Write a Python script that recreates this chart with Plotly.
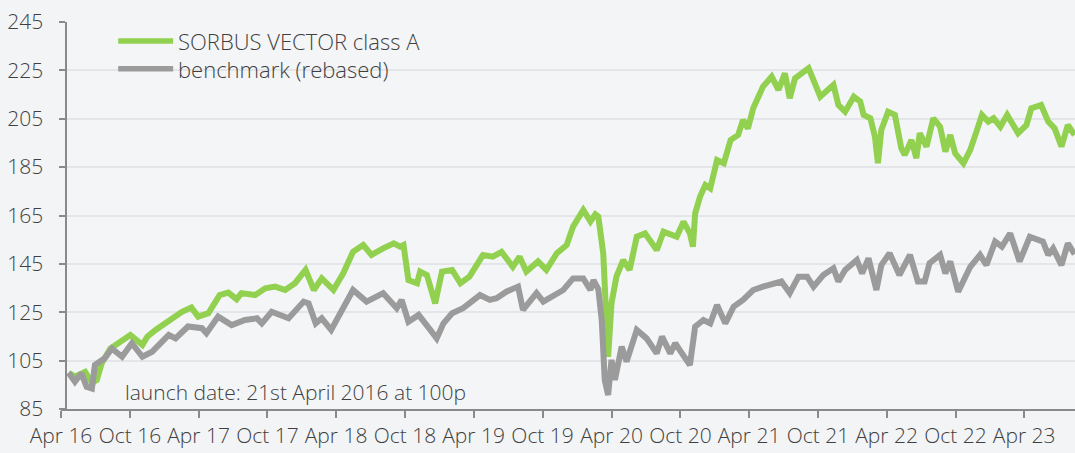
import plotly.graph_objects as go

# ---- data ----
fund_dates = [
    "2016-04-21", "2016-05-08", "2016-06-04", "2016-06-22", "2016-07-05", "2016-07-18", "2016-08-10",
    "2016-09-01", "2016-10-02", "2016-11-03", "2016-11-16", "2016-12-08", "2017-01-12", "2017-02-16",
    "2017-03-13", "2017-03-31", "2017-04-27", "2017-05-27", "2017-06-19", "2017-07-11", "2017-07-24",
    "2017-08-29", "2017-09-25", "2017-10-21", "2017-11-17", "2017-12-13", "2018-01-10", "2018-02-01",
    "2018-02-22", "2018-03-25", "2018-04-20", "2018-05-16", "2018-06-12", "2018-07-04", "2018-08-04",
    "2018-09-01", "2018-09-18", "2018-09-27", "2018-10-10", "2018-11-02", "2018-11-10", "2018-11-28",
    "2018-12-20", "2019-01-07", "2019-02-03", "2019-02-25", "2019-03-21", "2019-04-26", "2019-05-22",
    "2019-06-14", "2019-07-14", "2019-08-01", "2019-08-19", "2019-09-19", "2019-10-11", "2019-11-08",
    "2019-12-04", "2019-12-21", "2020-01-17", "2020-02-05", "2020-02-18", "2020-02-26", "2020-03-10",
    "2020-03-23", "2020-04-01", "2020-04-14", "2020-05-02", "2020-05-19", "2020-06-07", "2020-06-29",
    "2020-07-30", "2020-08-17", "2020-09-21", "2020-10-09", "2020-10-26", "2020-11-03", "2020-11-09",
    "2020-11-22", "2020-12-06", "2020-12-19", "2021-01-06", "2021-01-24", "2021-02-11", "2021-03-03",
    "2021-03-16", "2021-03-29", "2021-04-12", "2021-05-08", "2021-05-31", "2021-06-18", "2021-07-05",
    "2021-07-18", "2021-08-01", "2021-08-19", "2021-09-06", "2021-10-07", "2021-11-03", "2021-11-11",
    "2021-11-24", "2021-12-12", "2022-01-04", "2022-01-21", "2022-01-30", "2022-02-17", "2022-03-01",
    "2022-03-09", "2022-03-18", "2022-04-05", "2022-04-23", "2022-05-10", "2022-05-19", "2022-06-06",
    "2022-06-19", "2022-06-28", "2022-07-16", "2022-08-03", "2022-08-21", "2022-09-04", "2022-09-17",
    "2022-09-30", "2022-10-22", "2022-11-09", "2022-11-27", "2022-12-10", "2022-12-27", "2023-01-10",
    "2023-01-28", "2023-02-15", "2023-03-16", "2023-04-07", "2023-04-20", "2023-05-16", "2023-06-04",
    "2023-06-21", "2023-07-09", "2023-07-26", "2023-08-13",
]
fund_values = [
    100.0, 98.4, 100.4, 95.8, 97.0, 103.9, 110.0,
    112.2, 115.6, 111.5, 114.9, 117.7, 121.8, 125.2,
    127.0, 123.2, 124.6, 132.1, 133.1, 130.4, 132.9,
    132.1, 134.9, 135.6, 134.2, 137.0, 142.5, 134.2,
    139.0, 134.2, 141.1, 150.0, 152.8, 148.7, 151.4,
    153.5, 152.1, 152.8, 138.3, 137.0, 141.8, 140.4,
    128.7, 141.8, 142.5, 137.0, 139.7, 148.7, 148.0,
    150.0, 143.8, 148.0, 141.8, 146.0, 142.5, 149.4,
    152.8, 160.4, 167.3, 162.5, 165.5, 164.5, 149.4,
    106.6, 128.7, 139.7, 146.6, 142.5, 156.2, 157.6,
    150.7, 158.3, 156.2, 162.4, 157.6, 152.1, 165.9,
    172.8, 177.6, 176.2, 187.9, 186.6, 196.2, 198.3,
    204.5, 201.0, 209.3, 218.3, 222.4, 216.9, 223.8,
    213.5, 221.7, 223.8, 225.9, 214.1, 217.6, 219.0,
    210.7, 207.9, 214.1, 212.1, 206.6, 205.2, 197.6,
    186.6, 200.4, 207.9, 206.6, 192.8, 190.0, 196.2,
    188.7, 199.0, 193.5, 205.2, 201.7, 191.4, 198.3,
    190.7, 186.6, 192.1, 200.4, 206.6, 203.8, 205.2,
    201.7, 206.6, 199.0, 202.4, 209.3, 210.7, 203.8,
    201.0, 193.5, 202.4, 198.3,
]

bench_dates = [
    "2016-04-21", "2016-05-08", "2016-05-25", "2016-06-08", "2016-06-22", "2016-06-30", "2016-07-26",
    "2016-08-14", "2016-09-10", "2016-10-06", "2016-11-03", "2016-11-29", "2017-01-12", "2017-01-30",
    "2017-03-04", "2017-04-10", "2017-04-22", "2017-05-23", "2017-06-28", "2017-08-02", "2017-09-03",
    "2017-09-16", "2017-10-12", "2017-11-26", "2018-01-05", "2018-01-18", "2018-02-06", "2018-02-22",
    "2018-03-19", "2018-04-11", "2018-05-16", "2018-06-21", "2018-08-04", "2018-09-09", "2018-09-22",
    "2018-10-10", "2018-11-06", "2018-12-07", "2018-12-24", "2019-01-11", "2019-02-03", "2019-03-04",
    "2019-04-18", "2019-05-14", "2019-06-01", "2019-06-27", "2019-07-28", "2019-08-10", "2019-09-15",
    "2019-10-03", "2019-10-29", "2019-11-25", "2019-12-21", "2020-01-17", "2020-02-05", "2020-02-13",
    "2020-02-26", "2020-03-06", "2020-03-14", "2020-03-23", "2020-04-01", "2020-04-10", "2020-04-28",
    "2020-05-11", "2020-06-07", "2020-07-03", "2020-07-30", "2020-08-13", "2020-09-04", "2020-09-17",
    "2020-10-05", "2020-10-26", "2020-11-09", "2020-12-01", "2020-12-19", "2021-01-06", "2021-01-28",
    "2021-02-19", "2021-03-16", "2021-04-12", "2021-05-08", "2021-06-04", "2021-06-26", "2021-07-18",
    "2021-08-10", "2021-09-02", "2021-09-19", "2021-10-15", "2021-11-11", "2021-11-24", "2021-12-12",
    "2022-01-12", "2022-01-26", "2022-02-12", "2022-03-05", "2022-03-18", "2022-04-09", "2022-05-05",
    "2022-06-02", "2022-06-23", "2022-07-11", "2022-07-24", "2022-08-21", "2022-09-04", "2022-09-17",
    "2022-10-08", "2022-11-09", "2022-12-05", "2022-12-22", "2023-01-14", "2023-02-01", "2023-02-23",
    "2023-03-20", "2023-04-16", "2023-05-21", "2023-06-04", "2023-06-17", "2023-07-09", "2023-07-26",
    "2023-08-13",
]
bench_values = [
    100.0, 96.3, 99.8, 94.2, 93.5, 103.2, 106.0,
    110.0, 106.6, 112.2, 106.6, 108.7, 115.6, 114.2,
    119.1, 118.4, 116.3, 123.2, 119.7, 121.8, 122.5,
    120.4, 125.2, 122.5, 129.4, 128.7, 120.4, 122.5,
    117.7, 124.6, 134.2, 129.4, 132.9, 126.7, 130.1,
    121.1, 123.9, 117.7, 114.2, 120.4, 124.6, 126.7,
    132.1, 130.1, 130.8, 133.5, 135.6, 126.0, 132.9,
    129.4, 132.1, 134.2, 139.0, 139.0, 134.2, 138.3,
    134.5, 121.8, 97.0, 90.8, 105.3, 97.0, 110.8,
    104.6, 117.7, 114.2, 108.0, 114.9, 108.0, 112.2,
    108.0, 103.2, 119.1, 121.8, 120.4, 128.0, 120.4,
    127.3, 130.1, 134.2, 135.6, 137.0, 137.7, 132.9,
    139.7, 139.7, 135.6, 140.4, 143.2, 137.7, 142.5,
    146.6, 141.1, 147.3, 134.2, 144.5, 149.4, 140.4,
    148.7, 137.7, 137.7, 145.3, 148.7, 141.1, 146.0,
    133.5, 143.8, 148.7, 144.5, 154.2, 152.1, 157.6,
    146.0, 156.2, 154.2, 148.7, 151.4, 144.5, 153.5,
    149.0,
]

series_names = ["SORBUS VECTOR class A", "benchmark (rebased)"]
tick_dates = ["2016-04-01", "2016-10-01", "2017-04-01", "2017-10-01", "2018-04-01", "2018-10-01",
              "2019-04-01", "2019-10-01", "2020-04-01", "2020-10-01", "2021-04-01", "2021-10-01",
              "2022-04-01", "2022-10-01", "2023-04-01"]
tick_labels = ["Apr 16", "Oct 16", "Apr 17", "Oct 17", "Apr 18", "Oct 18", "Apr 19", "Oct 19",
               "Apr 20", "Oct 20", "Apr 21", "Oct 21", "Apr 22", "Oct 22", "Apr 23"]
y_ticks = [85, 105, 125, 145, 165, 185, 205, 225, 245]
note_text = "launch date: 21st April 2016 at 100p"

GREEN = "#92d050"
GREY = "#9b9b9b"
TEXT = "#3f3f3f"
AXIS = "#8a8a8a"
FONT = "Open Sans"
W = 300

fig = go.Figure()
fig.add_trace(go.Scatter(x=fund_dates, y=fund_values, mode="lines", name=series_names[0],
                         line=dict(color=GREEN, width=6), showlegend=False))
fig.add_trace(go.Scatter(x=bench_dates, y=bench_values, mode="lines", name=series_names[1],
                         line=dict(color=GREY, width=6), showlegend=False))

# legend drawn manually
legend_y = [0.951, 0.879]
for name, col, yy in zip(series_names, [GREEN, GREY], legend_y):
    fig.add_shape(type="line", xref="paper", yref="paper", x0=0.0564, x1=0.1106, y0=yy, y1=yy,
                  line=dict(color=col, width=5.5))
    fig.add_annotation(xref="paper", yref="paper", x=0.1136, y=yy, text=name, showarrow=False,
                       xanchor="left", yanchor="middle",
                       font=dict(family=FONT, size=22, color=TEXT, weight=W))

fig.add_annotation(xref="paper", yref="paper", x=0.0613, y=0.044, text=note_text, showarrow=False,
                   xanchor="left", yanchor="middle",
                   font=dict(family=FONT, size=21, color=TEXT, weight=W))

fig.update_layout(
    width=1075, height=453,
    margin=dict(l=61, r=0, t=22, b=44),
    paper_bgcolor="#f3f4f6", plot_bgcolor="#f4f5f7",
    font=dict(family=FONT, color=TEXT),
    xaxis=dict(range=["2016-04-01", "2023-08-14"], tickmode="array", tickvals=tick_dates,
               ticktext=tick_labels, showgrid=False, zeroline=False, showline=True,
               linecolor=AXIS, linewidth=2, ticks="outside", ticklen=7, tickwidth=2,
               tickcolor=AXIS, tickfont=dict(family=FONT, size=21, color=TEXT, weight=W),
               ticklabelstandoff=0),
    yaxis=dict(range=[85, 245], tickmode="array", tickvals=y_ticks, anchor="free",
               position=0.0054, showgrid=True, gridcolor="#e4e5e8", gridwidth=1.5,
               zeroline=False, showline=True, linecolor=AXIS, linewidth=2, ticks="outside",
               ticklen=6, tickwidth=2, tickcolor=AXIS,
               tickfont=dict(family=FONT, size=21, color=TEXT, weight=W), ticklabelstandoff=12),
)

fig.write_html("out.html", config={"displayModeBar": False},
               post_script="document.body.style.margin='0px';document.body.style.background='#f3f4f6';")
